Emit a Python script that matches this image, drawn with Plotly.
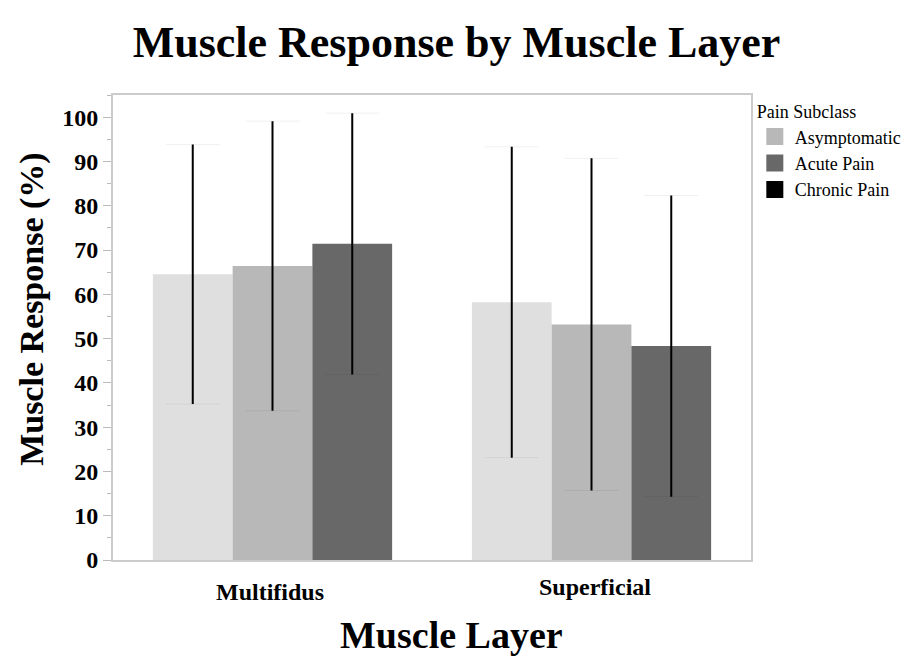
import plotly.graph_objects as go

# ---- data ----
layers = ["Multifidus", "Superficial"]
subclasses = ["Asymptomatic", "Acute Pain", "Chronic Pain"]
means = {
    "Asymptomatic": [64.5, 58.2],
    "Acute Pain": [66.4, 53.2],
    "Chronic Pain": [71.4, 48.3],
}
errors = {
    "Asymptomatic": [29.3, 35.1],
    "Acute Pain": [32.7, 37.5],
    "Chronic Pain": [29.5, 34.0],
}
y_ticks = [0, 10, 20, 30, 40, 50, 60, 70, 80, 90, 100]

bar_colors = ["#dfdfdf", "#b8b8b8", "#686868"]
legend_colors = ["#b8b8b8", "#686868", "#000000"]

SERIF = "Liberation Serif, Times New Roman, serif"

fig = go.Figure()

# main bars with faint caps
for i, s in enumerate(subclasses):
    fig.add_trace(go.Bar(
        x=layers, y=means[s], offsetgroup=str(i), name=s,
        marker=dict(color=bar_colors[i], line=dict(width=0)),
        error_y=dict(type="data", array=errors[s], visible=True,
                     color="rgba(0,0,0,0.06)", thickness=1, width=27),
        showlegend=False,
    ))

# overlay: black error stems
for i, s in enumerate(subclasses):
    fig.add_trace(go.Bar(
        x=layers, y=means[s], offsetgroup=str(i), name=s,
        marker=dict(color="rgba(0,0,0,0)", line=dict(width=0)),
        error_y=dict(type="data", array=errors[s], visible=True,
                     color="#000000", thickness=2, width=0),
        showlegend=False, hoverinfo="skip",
    ))

# legend entries
for i, s in enumerate(subclasses):
    fig.add_trace(go.Bar(
        x=[layers[0]], y=[None], offsetgroup=str(i), name=s,
        marker=dict(color=legend_colors[i], line=dict(width=5, color=legend_colors[i])),
        showlegend=True,
    ))

# category labels (slightly offset as in the reference)
label_shift = {"Multifidus": (-3, -17), "Superficial": (3, -12)}
for cat in layers:
    dx, dy = label_shift[cat]
    fig.add_annotation(
        x=cat, xref="x", y=0, yref="paper", yanchor="top",
        text=cat, showarrow=False, xshift=dx, yshift=dy,
        font=dict(family=SERIF, size=24, color="#000", weight="bold"),
    )

# axis titles
fig.add_annotation(
    x=0.53, xref="paper", y=-0.161, yref="paper", xanchor="center", yanchor="middle",
    text="Muscle Layer", showarrow=False,
    font=dict(family=SERIF, size=38, color="#000", weight="bold"),
)
fig.add_annotation(
    x=-0.127, xref="paper", y=0.54, yref="paper", xanchor="center", yanchor="middle",
    text="Muscle Response (%)", showarrow=False, textangle=-90,
    font=dict(family=SERIF, size=34, color="#000", weight="bold"),
)

fig.update_layout(
    width=913, height=656,
    barmode="group", bargap=0.25, bargroupgap=0,
    paper_bgcolor="white", plot_bgcolor="white",
    margin=dict(l=113, r=162, t=95, b=96, autoexpand=False),
    title=dict(text="Muscle Response by Muscle Layer", x=0.5, xanchor="center",
               y=0.936, yanchor="middle",
               font=dict(family=SERIF, size=44, color="#000", weight="bold")),
    legend=dict(
        title=dict(text="Pain Subclass", font=dict(family=SERIF, size=18, color="#000")),
        font=dict(family=SERIF, size=18, color="#000"),
        x=1.006, xanchor="left", y=1.0, yanchor="top",
        bgcolor="rgba(0,0,0,0)", tracegroupgap=0,
    ),
    showlegend=True,
)

fig.update_xaxes(
    type="category", range=[-0.5, 1.5],
    showticklabels=False, ticks="",
    showline=True, linecolor="#cccccc", linewidth=2, mirror=True,
    showgrid=False, zeroline=False,
)
fig.update_yaxes(
    range=[0, 105], tickvals=y_ticks, ticktext=[str(v) for v in y_ticks],
    ticks="outside", ticklen=8, tickcolor="#bbbbbb", tickwidth=1,
    minor=dict(ticks="outside", ticklen=4, tickcolor="#bbbbbb", dtick=5, showgrid=False),
    showline=True, linecolor="#cccccc", linewidth=2, mirror=True,
    showgrid=False, zeroline=False,
    tickfont=dict(family=SERIF, size=24, color="#000", weight="bold"),
)

fig.write_html("out.html")
